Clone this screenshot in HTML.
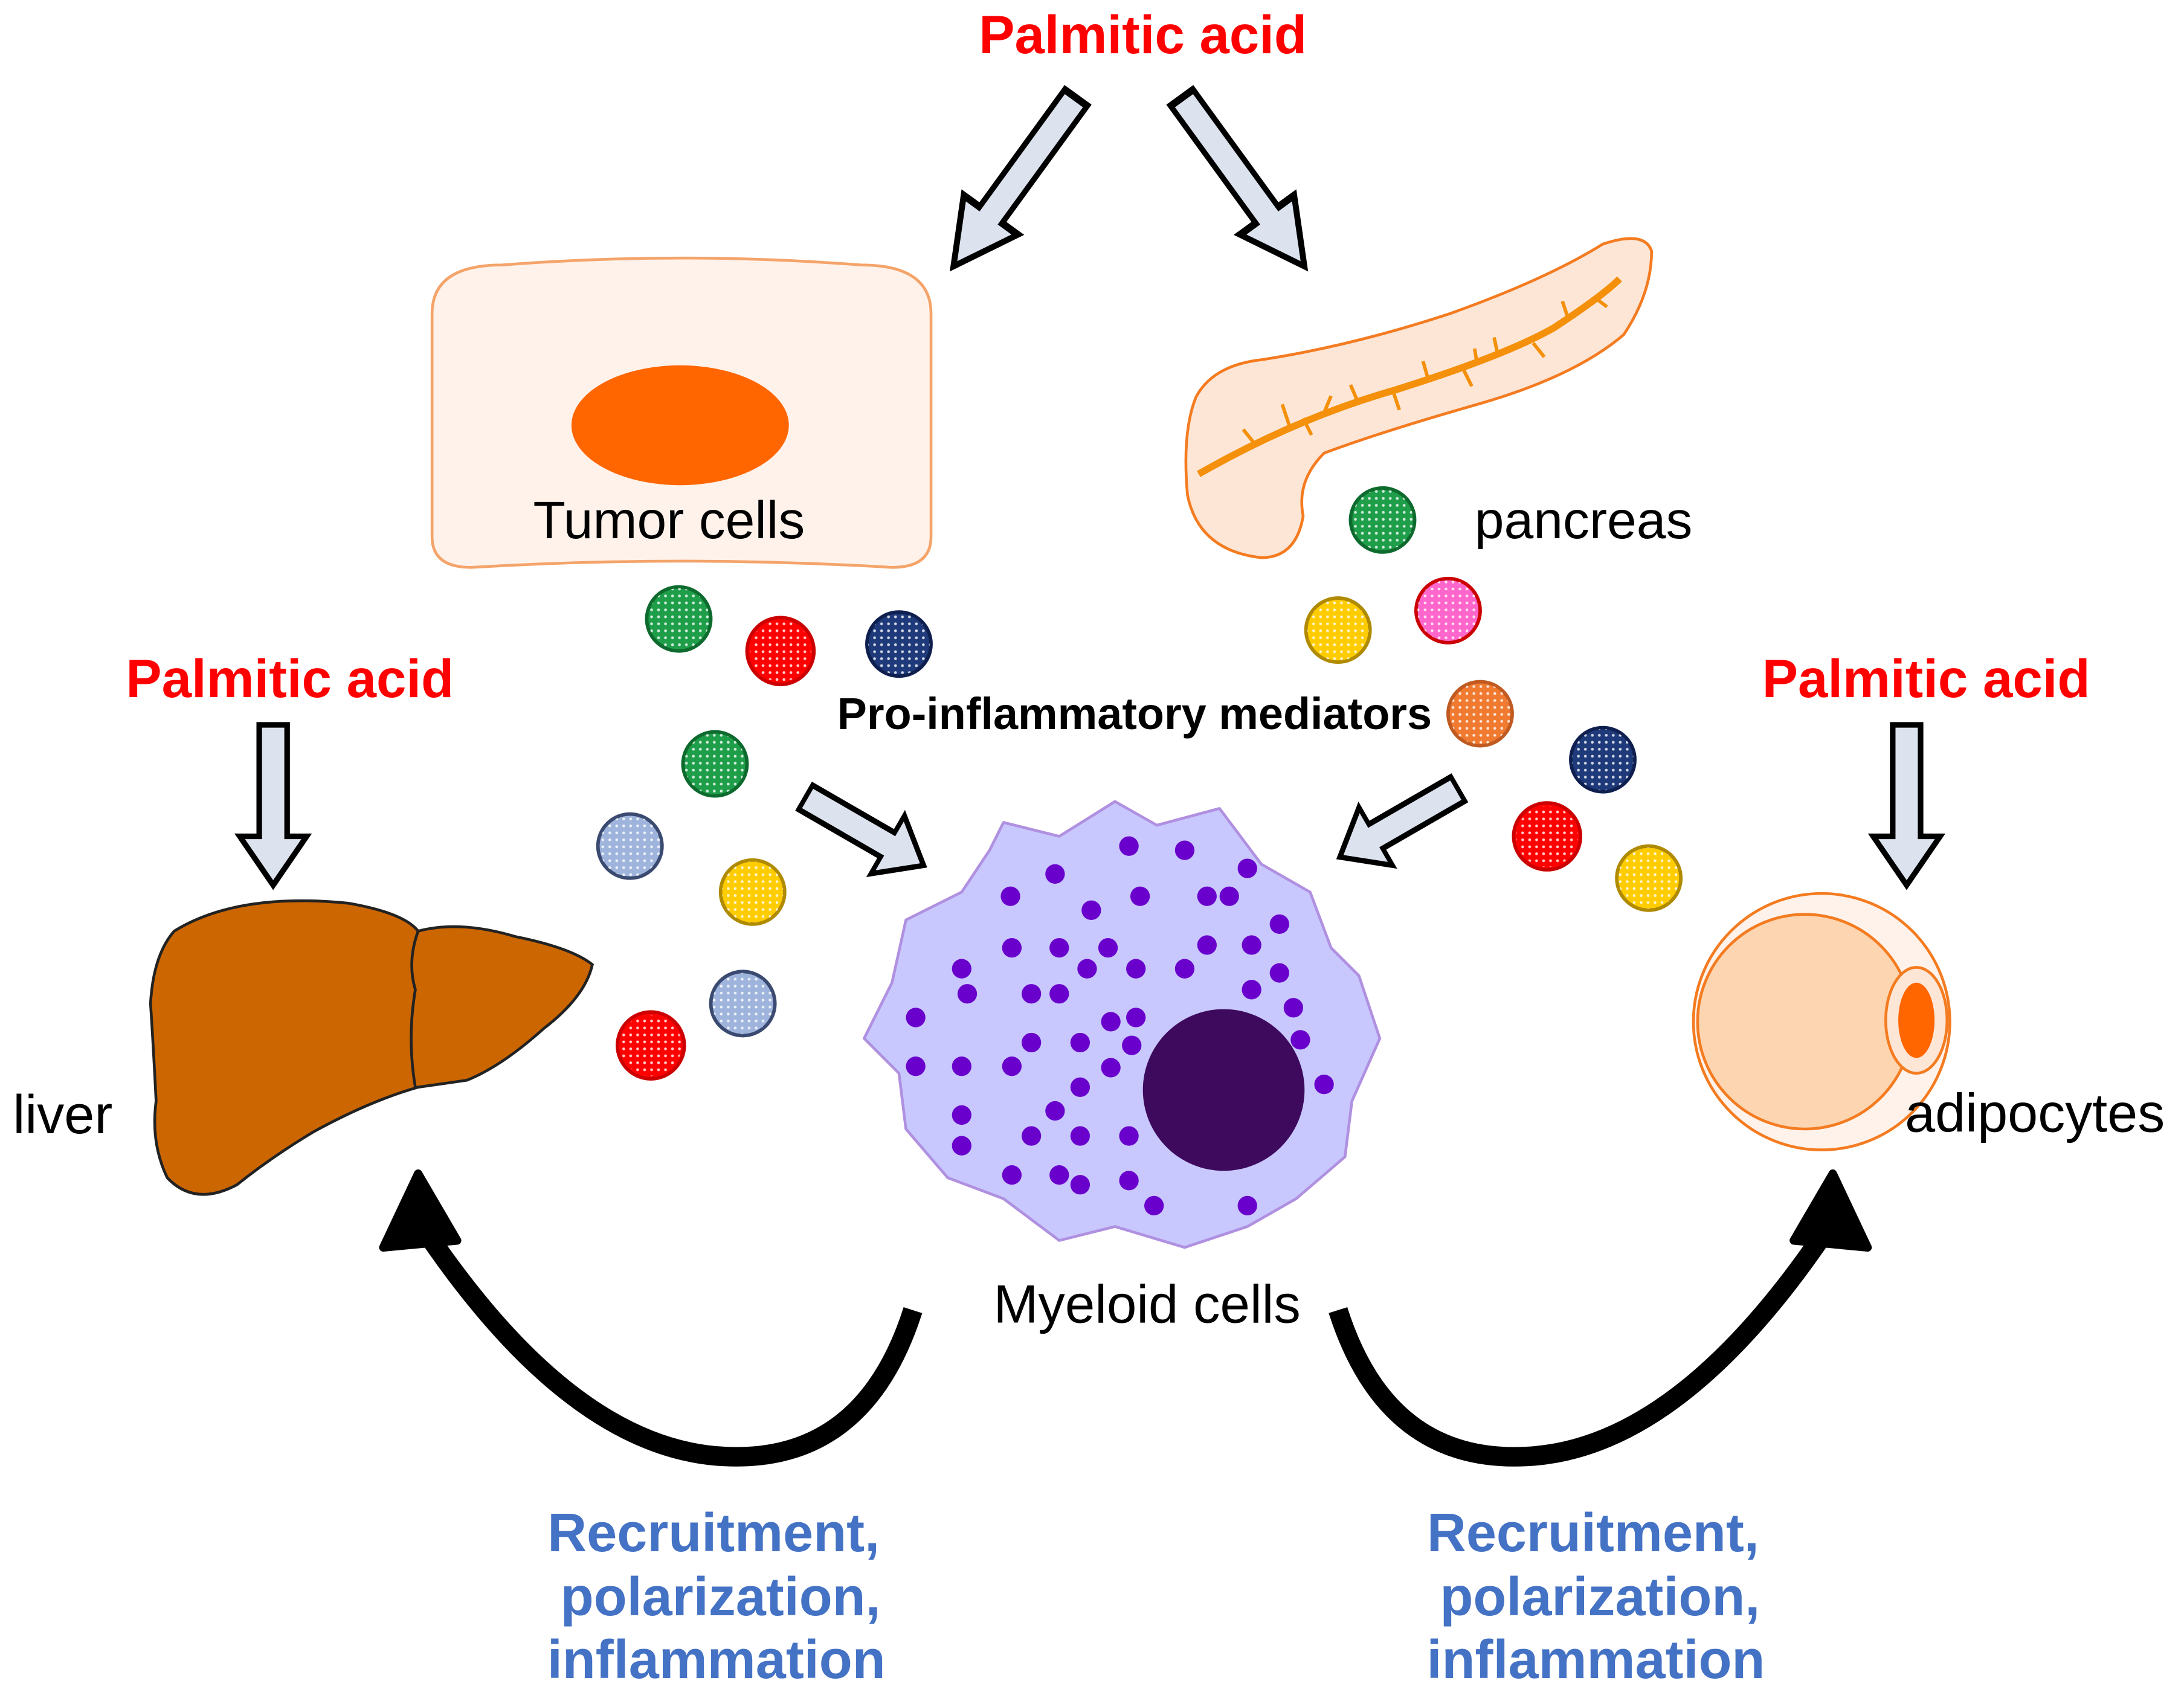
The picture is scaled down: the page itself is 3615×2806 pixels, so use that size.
<!DOCTYPE html>
<html><head><meta charset="utf-8"><style>html,body{margin:0;padding:0;background:#fff}svg{display:block}</style></head>
<body>
<svg width="3615" height="2806" viewBox="0 0 1567 1216" xmlns="http://www.w3.org/2000/svg" font-family="Liberation Sans, sans-serif">
<defs>
<pattern id="dots" width="5" height="5" patternUnits="userSpaceOnUse"><circle cx="2.5" cy="2.5" r="1" fill="#fff" opacity="0.8"/></pattern>
<g id="barr"><polygon points="-10,0 10,0 10,80 24,80 0,115 -24,80 -10,80" fill="#dce3ef" stroke="#000" stroke-width="4" stroke-linejoin="miter"/></g>
</defs>
<rect width="1567" height="1216" fill="#fff"/>
<g font-weight="bold" fill="#ff0000" font-size="38.5" text-anchor="middle">
<text x="820" y="38">Palmitic acid</text>
<text x="208" y="500">Palmitic acid</text>
<text x="1382" y="500">Palmitic acid</text>
</g>
<use href="#barr" transform="translate(772,70) rotate(36) scale(1,1.3)"/>
<use href="#barr" transform="translate(848,70) rotate(-36) scale(1,1.3)"/>
<use href="#barr" transform="translate(196,520)"/>
<use href="#barr" transform="translate(1368,520)"/>
<use href="#barr" transform="translate(578,572) rotate(-60) scale(1,0.85)"/>
<use href="#barr" transform="translate(1046,566) rotate(60) scale(1,0.85)"/>
<!-- tumor cell -->
<path d="M310,225 Q310,190 360,190 Q489,180 618,190 Q668,190 668,225 L668,385 Q668,407 640,407 Q489,398 338,407 Q310,407 310,385 Z" fill="#fff2ea" stroke="#f4a46a" stroke-width="2"/>
<ellipse cx="488" cy="305" rx="78" ry="43" fill="#ff6600"/>
<text x="480" y="386" font-size="38" text-anchor="middle">Tumor cells</text>
<!-- pancreas -->
<path d="M858,285 Q870,262 905,258 Q970,248 1040,225 Q1110,200 1150,175 Q1180,165 1185,180 Q1185,210 1165,240 Q1130,270 1060,290 Q990,310 950,325 Q930,345 935,370 Q930,400 905,400 Q860,395 852,355 Q848,310 858,285 Z" fill="#fde6d6" stroke="#f47b20" stroke-width="2"/>
<path d="M860,340 Q930,300 1000,280 Q1080,255 1115,235 Q1150,212 1162,200" fill="none" stroke="#f4900a" stroke-width="5"/>
<g stroke="#f4900a" stroke-width="2.5" fill="none">
<path d="M900,318 l-8,-10 M925,305 l-5,-15 M950,296 l5,-12 M975,290 l-6,-14 M1000,282 l4,12 M1025,273 l-4,-14 M1050,265 l6,12 M1075,256 l-3,-14 M1100,246 l8,10 M1125,228 l-4,-12 M1145,214 l8,6 M935,300 l6,12 M1060,262 l-2,-12"/>
</g>
<text x="1058" y="386" font-size="38">pancreas</text>
<g stroke-width="2.5">
<circle cx="487" cy="444" r="23" fill="#1f9e4a" stroke="#0e6b2e"/>
<circle cx="513" cy="548" r="23" fill="#1f9e4a" stroke="#0e6b2e"/>
<circle cx="992" cy="373" r="23" fill="#1f9e4a" stroke="#0e6b2e"/>
<circle cx="560" cy="467" r="24" fill="#ff0000" stroke="#cc0000"/>
<circle cx="1110" cy="600" r="24" fill="#ff0000" stroke="#cc0000"/>
<circle cx="467" cy="750" r="24" fill="#ff0000" stroke="#cc0000"/>
<circle cx="645" cy="462" r="23" fill="#1f3a7a" stroke="#0f2050"/>
<circle cx="1150" cy="545" r="23" fill="#1f3a7a" stroke="#0f2050"/>
<circle cx="452" cy="607" r="23" fill="#9fb4dc" stroke="#3a4a70"/>
<circle cx="533" cy="720" r="23" fill="#9fb4dc" stroke="#3a4a70"/>
<circle cx="540" cy="640" r="23" fill="#ffcc00" stroke="#b08a00"/>
<circle cx="960" cy="452" r="23" fill="#ffcc00" stroke="#b08a00"/>
<circle cx="1183" cy="630" r="23" fill="#ffcc00" stroke="#b08a00"/>
<circle cx="1039" cy="438" r="23" fill="#ff66cc" stroke="#cc0000"/>
<circle cx="1062" cy="512" r="23" fill="#f07a30" stroke="#c05a20"/>
</g>
<g fill="url(#dots)">
<circle cx="487" cy="444" r="22"/><circle cx="513" cy="548" r="22"/><circle cx="992" cy="373" r="22"/>
<circle cx="560" cy="467" r="22"/><circle cx="1110" cy="600" r="22"/><circle cx="467" cy="750" r="22"/>
<circle cx="645" cy="462" r="22"/><circle cx="1150" cy="545" r="22"/><circle cx="452" cy="607" r="22"/>
<circle cx="533" cy="720" r="22"/><circle cx="540" cy="640" r="22"/><circle cx="960" cy="452" r="22"/>
<circle cx="1183" cy="630" r="22"/><circle cx="1039" cy="438" r="22"/><circle cx="1062" cy="512" r="22"/>
</g>
<text x="814" y="523" font-size="32" font-weight="bold" text-anchor="middle">Pro-inflammatory mediators</text>
<path d="M720,590 L760,600 L800,575 L830,592 L875,580 L905,620 L940,640 L955,680 L975,700 L990,745 L970,790 L965,830 L930,860 L895,880 L850,895 L800,880 L760,890 L720,860 L680,845 L650,810 L645,770 L620,745 L640,705 L650,660 L690,640 L710,610 Z" fill="#c8c8ff" stroke="#b090e0" stroke-width="2" stroke-linejoin="round"/>
<circle cx="878" cy="782" r="58" fill="#3d0a5e"/>
<g fill="#6a00cc">
<circle cx="810" cy="607" r="7"/><circle cx="850" cy="610" r="7"/><circle cx="895" cy="623" r="7"/><circle cx="757" cy="627" r="7"/><circle cx="725" cy="643" r="7"/><circle cx="783" cy="653" r="7"/><circle cx="818" cy="643" r="7"/><circle cx="866" cy="643" r="7"/><circle cx="882" cy="643" r="7"/><circle cx="918" cy="663" r="7"/>
<circle cx="726" cy="680" r="7"/><circle cx="760" cy="680" r="7"/><circle cx="795" cy="680" r="7"/><circle cx="866" cy="678" r="7"/><circle cx="898" cy="678" r="7"/><circle cx="690" cy="695" r="7"/><circle cx="780" cy="695" r="7"/><circle cx="815" cy="695" r="7"/><circle cx="850" cy="695" r="7"/><circle cx="918" cy="698" r="7"/>
<circle cx="694" cy="713" r="7"/><circle cx="740" cy="713" r="7"/><circle cx="760" cy="713" r="7"/><circle cx="898" cy="710" r="7"/><circle cx="928" cy="723" r="7"/><circle cx="657" cy="730" r="7"/><circle cx="797" cy="733" r="7"/><circle cx="815" cy="730" r="7"/><circle cx="740" cy="748" r="7"/><circle cx="775" cy="748" r="7"/>
<circle cx="812" cy="750" r="7"/><circle cx="933" cy="746" r="7"/><circle cx="657" cy="765" r="7"/><circle cx="690" cy="765" r="7"/><circle cx="726" cy="765" r="7"/><circle cx="797" cy="766" r="7"/><circle cx="775" cy="780" r="7"/><circle cx="950" cy="778" r="7"/><circle cx="690" cy="800" r="7"/><circle cx="757" cy="797" r="7"/>
<circle cx="690" cy="822" r="7"/><circle cx="740" cy="815" r="7"/><circle cx="775" cy="815" r="7"/><circle cx="810" cy="815" r="7"/><circle cx="726" cy="843" r="7"/><circle cx="760" cy="843" r="7"/><circle cx="775" cy="850" r="7"/><circle cx="810" cy="847" r="7"/><circle cx="828" cy="865" r="7"/><circle cx="895" cy="865" r="7"/>
</g>
<text x="823" y="949" font-size="38.5" text-anchor="middle">Myeloid cells</text>
<path d="M125,668 Q170,640 250,648 Q290,655 300,668 Q330,660 370,672 Q410,680 425,692 Q420,715 390,738 Q360,765 335,775 L300,780 Q265,790 225,812 Q195,830 170,850 Q140,866 120,845 Q108,820 112,790 Q110,750 108,720 Q110,685 125,668 Z" fill="#cc6600" stroke="#222" stroke-width="2"/>
<path d="M300,668 Q292,690 298,710 Q292,745 298,780" fill="none" stroke="#222" stroke-width="2"/>
<text x="45" y="813" font-size="39" text-anchor="middle">liver</text>
<circle cx="1307" cy="733" r="92" fill="#fff2ea" stroke="#f47b20" stroke-width="2"/>
<circle cx="1295" cy="733" r="77" fill="#fdd5b1" stroke="#f47b20" stroke-width="2"/>
<ellipse cx="1375" cy="732" rx="22" ry="38" fill="#fde6d6" stroke="#f47b20" stroke-width="2"/>
<ellipse cx="1375" cy="732" rx="13" ry="27" fill="#ff6600"/>
<text x="1460" y="812" font-size="39" text-anchor="middle">adipocytes</text>
<path d="M655,940 Q620,1050 520,1045 Q410,1040 303,880" fill="none" stroke="#000" stroke-width="14"/>
<polygon points="300,842 275,895 328,890" fill="#000" stroke="#000" stroke-width="6" stroke-linejoin="round"/>
<path d="M960,940 Q995,1050 1095,1045 Q1205,1040 1312,880" fill="none" stroke="#000" stroke-width="14"/>
<polygon points="1315,842 1340,895 1287,890" fill="#000" stroke="#000" stroke-width="6" stroke-linejoin="round"/>
<g fill="#4472c4" font-weight="bold" font-size="39" text-anchor="middle">
<text x="512" y="1113">Recruitment,</text><text x="517" y="1159">polarization,</text><text x="514" y="1204">inflammation</text>
<text x="1143" y="1113">Recruitment,</text><text x="1148" y="1159">polarization,</text><text x="1145" y="1204">inflammation</text>
</g>
</svg>
</body></html>
